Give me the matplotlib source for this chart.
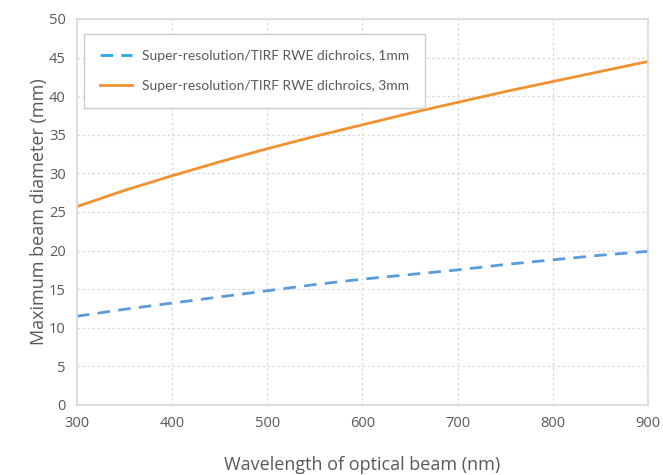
import matplotlib
matplotlib.use("Agg")
import matplotlib.pyplot as plt
from matplotlib.lines import Line2D

wavelength = [300, 350, 400, 450, 500, 550, 600, 650, 700, 750, 800, 850, 900]
d_1mm = [11.5, 12.4, 13.2, 14.0, 14.8, 15.6, 16.3, 16.9, 17.5, 18.2, 18.8, 19.4, 19.9]
d_3mm = [25.7, 27.8, 29.7, 31.5, 33.2, 34.8, 36.3, 37.8, 39.2, 40.6, 41.9, 43.2, 44.5]
label_1mm = "Super-resolution/TIRF RWE dichroics, 1mm"
label_3mm = "Super-resolution/TIRF RWE dichroics, 3mm"
xticks = [300, 400, 500, 600, 700, 800, 900]
yticks = [0, 5, 10, 15, 20, 25, 30, 35, 40, 45, 50]

fig = plt.figure(figsize=(6.63, 4.75), dpi=100)
ax = fig.add_axes([0.1161, 0.1474, 0.8613, 0.8126])

blue = "#5A9BDC"
orange = "#F39030"
ax.plot(wavelength, d_1mm, color=blue, lw=2.0, dashes=(4.5, 3))
ax.plot(wavelength, d_3mm, color=orange, lw=2.0)

ax.set_xlim(300, 900)
ax.set_ylim(0, 50)
ax.set_xticks(xticks)
ax.set_yticks(yticks)
ax.grid(True, color="#D9D9D9", linestyle=(0, (2, 2)), linewidth=0.9)
ax.set_axisbelow(True)
for s in ax.spines.values():
    s.set_color("#D9D9D9")
    s.set_linewidth(1.2)
ax.tick_params(length=0, pad=8, labelsize=10.5, labelcolor="#595959")
for lab in ax.get_xticklabels() + ax.get_yticklabels():
    lab.set_family("Open Sans")

ax.set_xlabel("Wavelength of optical beam (nm)", fontsize=13, color="#595959",
              family="Open Sans", labelpad=18)
ax.set_ylabel("Maximum beam diameter (mm)", fontsize=13, color="#595959",
              family="Open Sans", labelpad=1)

handles = [Line2D([], [], color="#2AA8EA", lw=2.0, dashes=(4.5, 3)),
           Line2D([], [], color=orange, lw=2.0)]
leg = ax.legend(handles, [label_1mm, label_3mm], loc="upper left",
                bbox_to_anchor=(0.0123, 0.961), borderaxespad=0,
                frameon=True, fancybox=False,
                edgecolor="#CCCCCC", framealpha=1, borderpad=1.15,
                labelspacing=1.3, handlelength=2.3, handletextpad=0.75,
                prop={"family": "Lato", "size": 10})
for t in leg.get_texts():
    t.set_color("#595959")
leg.get_frame().set_linewidth(1.0)

fig.savefig("out.png", dpi=100)
